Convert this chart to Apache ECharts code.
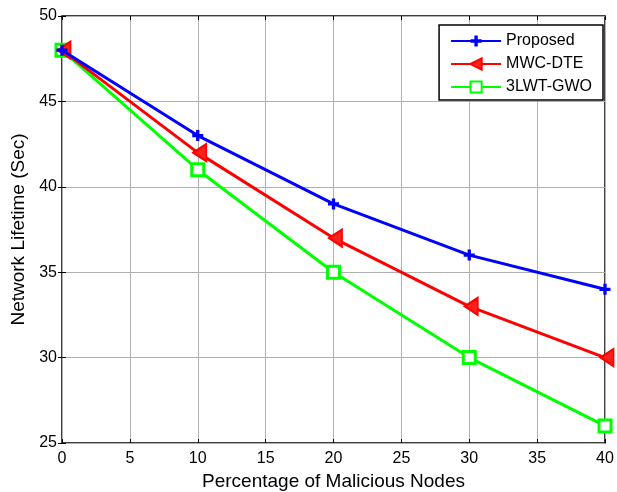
<!DOCTYPE html>
<html>
<head>
<meta charset="utf-8">
<script src="https://cdn.jsdelivr.net/npm/echarts@6/dist/echarts.min.js"></script>
<style>
html, body {margin: 0; padding: 0; background: #fff;}
#chart {width: 617px; height: 492px;}
</style>
</head>
<body>
<div id="chart"></div>
<script>
let xs = [0, 10, 20, 30, 40];
let proposed = [48, 43, 39, 36, 34];
let mwcDte = [48, 42, 37, 33, 30];
let lwtGwo = [48, 41, 35, 30, 26];

function pairs(ys) {
    return xs.map(function (x, i) {
        return [x, ys[i]];
    });
}

let font = 'Liberation Sans, Arial, sans-serif';
let plus = 'path://M3.5,0 L6.5,0 L6.5,3.5 L10,3.5 L10,6.5 L6.5,6.5 L6.5,10 L3.5,10 L3.5,6.5 L0,6.5 L0,3.5 L3.5,3.5 Z';
let triLeft = 'path://M0,5 L10,0 L10,10 Z';

let myChart = echarts.init(document.getElementById('chart'));
let option = {
    animation: false,
    backgroundColor: '#fff',
    grid: {
        left: 62,
        right: 12,
        top: 16,
        bottom: 49,
        outerBoundsMode: 'none',
        show: true,
        borderColor: '#000',
        borderWidth: 1.5
    },
    legend: {
        right: 14,
        top: 25,
        orient: 'vertical',
        backgroundColor: '#fff',
        borderColor: '#000',
        borderWidth: 1.5,
        borderRadius: 0,
        padding: [8, 11, 5, 11],
        itemGap: 7,
        itemWidth: 50,
        itemHeight: 14,
        textStyle: {fontFamily: font, fontSize: 16, color: '#000'},
        data: ['Proposed', 'MWC-DTE', '3LWT-GWO']
    },
    xAxis: [{
        type: 'value',
        min: 0,
        max: 40,
        interval: 5,
        name: 'Percentage of Malicious Nodes',
        nameLocation: 'middle',
        nameGap: 28,
        nameTextStyle: {fontFamily: font, fontSize: 19, color: '#000'},
        axisLine: {show: false},
        axisTick: {inside: true, length: 4, lineStyle: {color: '#000'}},
        axisLabel: {fontFamily: font, fontSize: 16, color: '#000', margin: 8},
        splitLine: {lineStyle: {color: '#b0b0b0', width: 1}}
    }, {
        type: 'value',
        position: 'top',
        min: 0,
        max: 40,
        interval: 5,
        axisLine: {show: false},
        axisTick: {inside: true, length: 4, lineStyle: {color: '#000'}},
        axisLabel: {show: false},
        splitLine: {show: false}
    }],
    yAxis: [{
        type: 'value',
        min: 25,
        max: 50,
        interval: 5,
        name: 'Network Lifetime (Sec)',
        nameLocation: 'middle',
        nameGap: 31,
        nameTextStyle: {fontFamily: font, fontSize: 19, color: '#000'},
        axisLine: {show: false},
        axisTick: {inside: true, length: 4, lineStyle: {color: '#000'}},
        axisLabel: {fontFamily: font, fontSize: 16, color: '#000', margin: 5},
        splitLine: {lineStyle: {color: '#b0b0b0', width: 1}}
    }, {
        type: 'value',
        position: 'right',
        min: 25,
        max: 50,
        interval: 5,
        axisLine: {show: false},
        axisTick: {inside: true, length: 4, lineStyle: {color: '#000'}},
        axisLabel: {show: false},
        splitLine: {show: false}
    }],
    series: [
        {
            name: 'Proposed',
            type: 'line',
            data: pairs(proposed),
            symbol: plus,
            symbolSize: 11,
            lineStyle: {color: '#0000ff', width: 3},
            itemStyle: {color: '#0000ff'},
            z: 4
        },
        {
            name: 'MWC-DTE',
            type: 'line',
            data: pairs(mwcDte),
            symbol: triLeft,
            symbolSize: [13, 17],
            symbolOffset: [2, 0],
            lineStyle: {color: '#ff0000', width: 3},
            itemStyle: {color: '#ff2020', borderColor: '#ff0000', borderWidth: 2},
            z: 3
        },
        {
            name: '3LWT-GWO',
            type: 'line',
            data: pairs(lwtGwo),
            symbol: 'rect',
            symbolSize: 12,
            lineStyle: {color: '#00ff00', width: 3},
            itemStyle: {color: '#fff', borderColor: '#00ff00', borderWidth: 3},
            z: 2
        }
    ]
};
myChart.setOption(option);
</script>
</body>
</html>
